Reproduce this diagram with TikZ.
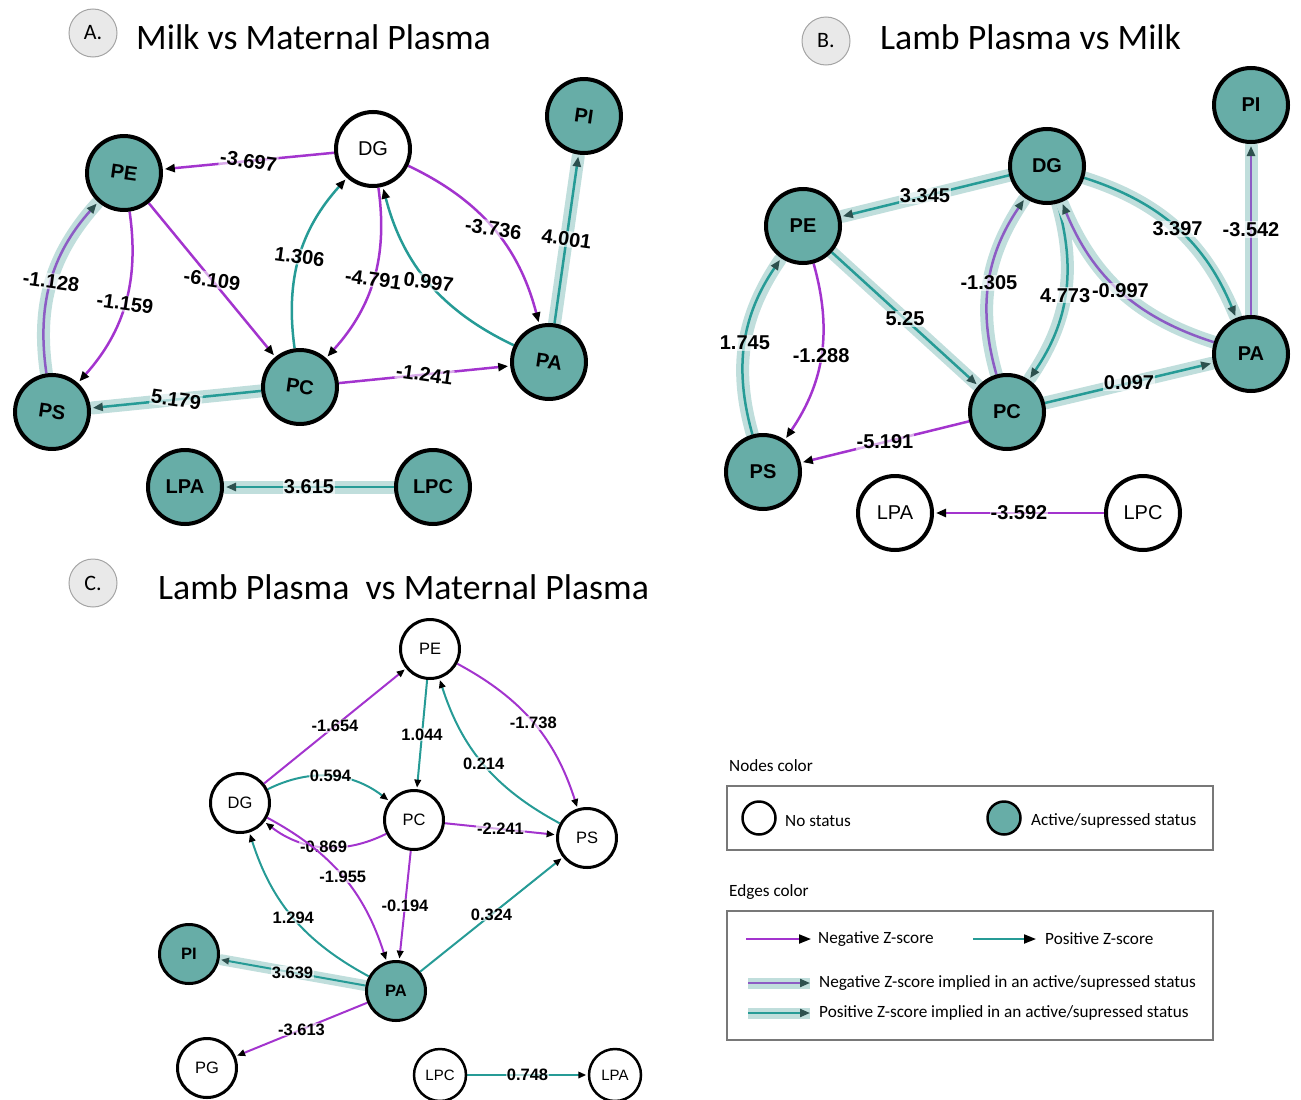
\documentclass[tikz,border=0pt]{standalone}
\usepackage{fontspec}
\setmainfont{Liberation Sans}
\newfontfamily\calfont{Carlito}
\usetikzlibrary{arrows.meta,backgrounds}
\definecolor{nodeteal}{RGB}{103,173,167}
\definecolor{edgeteal}{RGB}{38,155,150}
\definecolor{edgepurple}{RGB}{163,52,206}
\definecolor{halo}{RGB}{192,222,220}
\definecolor{hipurple}{RGB}{140,92,196}
\definecolor{tipdark}{RGB}{45,80,78}
\definecolor{badgefill}{RGB}{233,233,233}
\definecolor{badgeline}{RGB}{165,165,165}
\definecolor{legline}{RGB}{120,120,120}
\tikzset{
  nbig/.style={circle, draw=black, line width=4pt, minimum size=74pt, inner sep=0pt},
  nsmall/.style={circle, draw=black, line width=3pt, minimum size=59pt, inner sep=0pt},
  ntiny/.style={circle, draw=black, line width=2.5pt, minimum size=52pt, inner sep=0pt},
  actA/.style={nbig, fill=nodeteal, font=\bfseries\fontsize{20}{20}\selectfont},
  noneA/.style={nbig, fill=white, font=\fontsize{20}{20}\selectfont},
  actC/.style={nsmall, fill=nodeteal, font=\bfseries\fontsize{16.5}{16.5}\selectfont},
  noneC/.style={nsmall, fill=white, font=\fontsize{16.5}{16.5}\selectfont},
  noneT/.style={ntiny, fill=white, font=\fontsize{15}{15}\selectfont},
  tipblk/.style={-{Triangle[length=10pt,width=8pt,color=black]}},
  tipdk/.style={-{Triangle[length=10pt,width=8pt,color=tipdark]}},
  tipsm/.style={-{Triangle[length=8pt,width=6.5pt,color=black]}},
  tipsmdk/.style={-{Triangle[length=8pt,width=6.5pt,color=tipdark]}},
  haloA/.style={preaction={draw=halo, line width=13pt, line cap=round, -}},
  haloC/.style={preaction={draw=halo, line width=11pt, line cap=round, -}},
  negA/.style={draw=edgepurple, line width=2.5pt, tipblk, shorten >=2pt},
  posA/.style={draw=edgeteal, line width=2.5pt, tipblk, shorten >=2pt},
  hinegA/.style={haloA, draw=hipurple, line width=2.5pt, tipdk, shorten >=2pt},
  hiposA/.style={haloA, draw=edgeteal, line width=2.5pt, tipdk, shorten >=2pt},
  negC/.style={draw=edgepurple, line width=2pt, tipsm, shorten >=1.5pt},
  posC/.style={draw=edgeteal, line width=2pt, tipsm, shorten >=1.5pt},
  hiposC/.style={haloC, draw=edgeteal, line width=2pt, tipsmdk, shorten >=1.5pt},
  lblbase/.style={fill=white, fill opacity=0.6, text opacity=1, inner sep=1pt},
  lblA/.style={lblbase, font=\bfseries\fontsize{20}{20}\selectfont, rotate=-8},
  lblAf/.style={lblbase, font=\bfseries\fontsize{20}{20}\selectfont},
  lblB/.style={lblbase, font=\bfseries\fontsize{20}{20}\selectfont},
  lblC/.style={lblbase, font=\bfseries\fontsize{16.5}{16.5}\selectfont},
  badge/.style={circle, fill=badgefill, draw=badgeline, line width=1pt, minimum size=48pt, inner sep=0pt, font=\calfont\fontsize{22}{22}\selectfont},
  ptitle/.style={anchor=west, inner sep=0pt, font=\calfont\fontsize{35.8}{35.8}\selectfont},
  legtxt/.style={anchor=west, inner sep=0pt, font=\calfont\fontsize{17.2}{17.2}\selectfont},
  legbox/.style={draw=legline, line width=1.3pt},
}
\begin{document}
\begin{tikzpicture}[x=1pt, y=-1pt]
\useasboundingbox (0,0) rectangle (1301,1100);

% ---------- titles ----------
\node[badge] (bA) at (93,33) {A.};
\node[ptitle] (tA) at (136,37) {Milk vs Maternal Plasma};
\node[badge] (bB) at (826,41) {B.};
\node[ptitle] (tB) at (880,37) {Lamb Plasma vs Milk};
\node[badge] (bC) at (93,583) {C.};
\node[ptitle] (tC) at (158,587) {Lamb Plasma\ \ vs Maternal Plasma};

% ---------- panel A nodes ----------
\node[actA, rotate=-8] (A-PE) at (124,173) {PE};
\node[noneA] (A-DG) at (373,149) {DG};
\node[actA, rotate=-8] (A-PI) at (584,116) {PI};
\node[actA, rotate=-8] (A-PS) at (52,412) {PS};
\node[actA, rotate=-8] (A-PC) at (300,387) {PC};
\node[actA, rotate=-8] (A-PA) at (549,362) {PA};
\node[actA] (A-LPA) at (185,487) {LPA};
\node[actA] (A-LPC) at (433,487) {LPC};

% ---------- panel B nodes ----------
\node[actA] (B-DG) at (1047,166) {DG};
\node[actA] (B-PI) at (1251,105) {PI};
\node[actA] (B-PE) at (803,226) {PE};
\node[actA] (B-PA) at (1251,354) {PA};
\node[actA] (B-PC) at (1007,412) {PC};
\node[actA] (B-PS) at (763,472) {PS};
\node[noneA] (B-LPA) at (895,513) {LPA};
\node[noneA] (B-LPC) at (1143,513) {LPC};

% ---------- panel C nodes ----------
\node[noneC] (C-PE) at (430,649) {PE};
\node[noneC] (C-DG) at (240,803) {DG};
\node[noneC] (C-PC) at (414,820) {PC};
\node[noneC] (C-PS) at (587,838) {PS};
\node[actC] (C-PI) at (189,954) {PI};
\node[actC] (C-PA) at (396,991) {PA};
\node[noneC] (C-PG) at (207,1068) {PG};
\node[noneT] (C-LPC) at (440,1075) {LPC};
\node[noneT] (C-LPA) at (615,1075) {LPA};

\begin{scope}[on background layer]
% ---------- panel A edges ----------
\draw[hinegA] (A-PS) to[bend left=25] node[lblA]{-1.128} (A-PE);
\draw[hiposA] (A-PA) -- node[lblA]{4.001} (A-PI);
\draw[hiposA] (A-PC) -- node[lblA]{5.179} (A-PS);
\draw[hiposA] (A-LPC) -- node[lblAf]{3.615} (A-LPA);
\draw[negA] (A-PE) to[bend left=25] node[lblA]{-1.159} (A-PS);
\draw[negA] (A-DG) -- node[lblA]{-3.697} (A-PE);
\draw[negA] (A-PE) -- node[lblA]{-6.109} (A-PC);
\draw[posA] (A-PC) to[bend left=25] node[lblA]{1.306} (A-DG);
\draw[negA] (A-DG) to[bend left=25] node[lblA]{-4.791} (A-PC);
\draw[posA] (A-PA) to[bend left=25] node[lblA]{0.997} (A-DG);
\draw[negA] (A-DG) to[bend left=25] node[lblA]{-3.736} (A-PA);
\draw[negA] (A-PC) -- node[lblA]{-1.241} (A-PA);

% ---------- panel B edges ----------
\draw[hiposA] (B-DG) -- node[lblB]{3.345} (B-PE);
\draw[hiposA] (B-PE) -- node[lblB]{5.25} (B-PC);
\draw[hiposA] (B-PS) to[bend left=25] node[lblB]{1.745} (B-PE);
\draw[hinegA] (B-PC) to[bend left=25] node[lblB]{-1.305} (B-DG);
\draw[hiposA] (B-DG) to[bend left=25] node[lblB]{4.773} (B-PC);
\draw[hinegA] (B-PA) to[bend left=25] node[lblB]{-0.997} (B-DG);
\draw[hiposA] (B-DG) to[bend left=25] node[lblB]{3.397} (B-PA);
\draw[hinegA] (B-PA) -- node[lblB]{-3.542} (B-PI);
\draw[hiposA] (B-PC) -- node[lblB]{0.097} (B-PA);
\draw[negA] (B-PE) to[bend left=25] node[lblB]{-1.288} (B-PS);
\draw[negA] (B-PC) -- node[lblB]{-5.191} (B-PS);
\draw[negA] (B-LPC) -- node[lblB]{-3.592} (B-LPA);

% ---------- panel C edges ----------
\draw[hiposC] (C-PA) -- node[lblC]{3.639} (C-PI);
\draw[negC] (C-DG) -- node[lblC]{-1.654} (C-PE);
\draw[posC] (C-PE) -- node[lblC]{1.044} (C-PC);
\draw[negC] (C-PE) to[bend left=22] node[lblC]{-1.738} (C-PS);
\draw[posC] (C-PS) to[bend left=22] node[lblC]{0.214} (C-PE);
\draw[posC] (C-DG) to[bend left=32] node[lblC]{0.594} (C-PC);
\draw[negC] (C-PC) to[bend left=32] node[lblC]{-0.869} (C-DG);
\draw[negC] (C-PC) -- node[lblC]{-2.241} (C-PS);
\draw[posC] (C-PA) to[bend left=22] node[lblC]{1.294} (C-DG);
\draw[negC] (C-DG) to[bend left=22] node[lblC]{-1.955} (C-PA);
\draw[negC] (C-PC) -- node[lblC]{-0.194} (C-PA);
\draw[posC] (C-PA) -- node[lblC]{0.324} (C-PS);
\draw[negC] (C-PA) -- node[lblC]{-3.613} (C-PG);
\draw[posC] (C-LPC) -- node[lblC]{0.748} (C-LPA);
\end{scope}

% ---------- legend ----------
\node[legtxt] (lgN) at (729,766) {Nodes color};
\draw[legbox] (727,786) rectangle (1213,850);
\node[circle, draw=black, line width=2.5pt, fill=white, minimum size=33pt, inner sep=0pt] (lgW) at (759,818) {};
\node[legtxt] (lgWt) at (785,821) {No status};
\node[circle, draw=black, line width=2.5pt, fill=nodeteal, minimum size=33pt, inner sep=0pt] (lgT) at (1004,818) {};
\node[legtxt] (lgTt) at (1031,821) {Active/supressed status};

\node[legtxt] (lgE) at (729,892) {Edges color};
\draw[legbox] (727,911) rectangle (1213,1040);
\coordinate (l1a) at (746,939); \coordinate (l1b) at (811,939);
\draw[draw=edgepurple, line width=2pt, -{Triangle[length=12pt,width=9pt,color=black]}] (l1a) -- (l1b);
\node[legtxt] (l1t) at (818,939) {Negative Z-score};
\coordinate (l2a) at (973,939); \coordinate (l2b) at (1036,939);
\draw[draw=edgeteal, line width=2pt, -{Triangle[length=12pt,width=9pt,color=black]}] (l2a) -- (l2b);
\node[legtxt] (l2t) at (1045,939) {Positive Z-score};
\coordinate (l3a) at (748,983); \coordinate (l3b) at (810,983);
\draw[draw=halo, line width=11pt] (l3a) -- (l3b);
\draw[draw=hipurple, line width=2pt, tipdk] (l3a) -- (l3b);
\node[legtxt] (l3t) at (819,983) {Negative Z-score implied in an active/supressed status};
\coordinate (l4a) at (748,1013); \coordinate (l4b) at (810,1013);
\draw[draw=halo, line width=11pt] (l4a) -- (l4b);
\draw[draw=edgeteal, line width=2pt, tipdk] (l4a) -- (l4b);
\node[legtxt] (l4t) at (819,1013) {Positive Z-score implied in an active/supressed status};
\end{tikzpicture}
\end{document}
